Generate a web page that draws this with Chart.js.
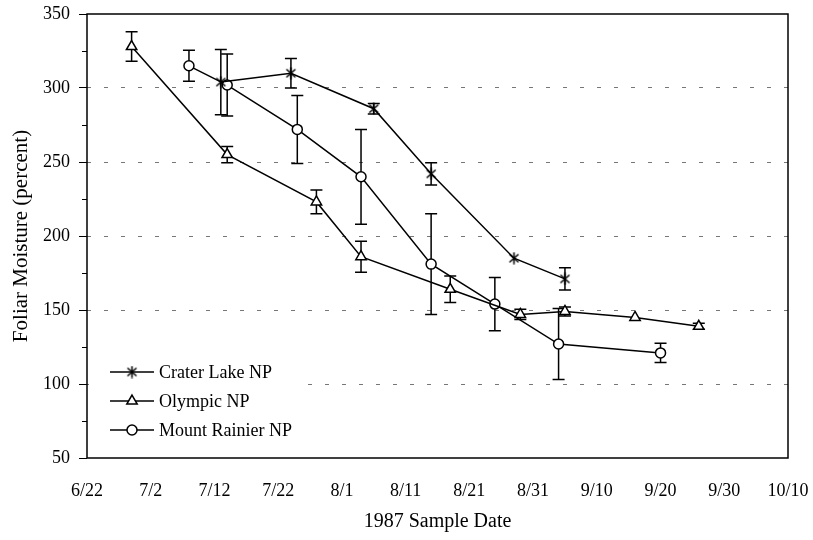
<!DOCTYPE html>
<html>
<head>
<meta charset="utf-8">
<script src="https://cdn.jsdelivr.net/npm/chart.js@4.4.0/dist/chart.umd.min.js"></script>
<style>
    html, body { margin: 0; padding: 0; background: #fff; }
    #wrap { width: 813px; height: 540px; }
</style>
</head>
<body>
<div id="wrap"><canvas id="chart" width="813" height="540"></canvas></div>
<script>
const xTickLabels = ["6/22", "7/2", "7/12", "7/22", "8/1", "8/11", "8/21", "8/31", "9/10", "9/20", "9/30", "10/10"];

const craterDates = ["7/13", "7/24", "8/6", "8/15", "8/28", "9/5"];
const craterValues = [304, 310, 286, 242, 185, 171];
const craterErrors = [22, 10, 3.5, 7.5, 0, 7.5];

const olympicDates = ["6/29", "7/14", "7/28", "8/4", "8/18", "8/29", "9/5", "9/16", "9/26"];
const olympicValues = [328, 255, 223, 186, 164, 147, 149, 145, 139];
const olympicErrors = [10, 5.5, 8, 10.5, 9, 3.5, 3, 0, 2];

const rainierDates = ["7/8", "7/14", "7/25", "8/4", "8/15", "8/25", "9/4", "9/20"];
const rainierValues = [315, 302, 272, 240, 181, 154, 127, 121];
const rainierErrors = [10.5, 21, 23, 32, 34, 18, 24, 6.5];

const FONT = "'Liberation Serif', 'Times New Roman', serif";

// days since 6/22/1987
function dayOffset(md) {
    const [m, d] = md.split("/").map(Number);
    return (Date.UTC(1987, m - 1, d) - Date.UTC(1987, 5, 22)) / 86400000;
}

function toPoints(dates, values) {
    return dates.map((d, i) => ({ x: dayOffset(d), y: values[i] }));
}

function makeAsterisk() {
    const c = document.createElement("canvas");
    c.width = 13;
    c.height = 13;
    const g = c.getContext("2d");
    g.strokeStyle = "#000";
    g.lineWidth = 1.5;
    g.beginPath();
    g.moveTo(2, 2.5); g.lineTo(11, 10.5);
    g.moveTo(11, 2.5); g.lineTo(2, 10.5);
    g.moveTo(6.5, 0.5); g.lineTo(6.5, 12.5);
    g.stroke();
    return c;
}

const asterisk = makeAsterisk();

function seriesStyle(style, radius) {
    return {
        borderColor: "#000",
        borderWidth: 1.5,
        pointStyle: style,
        pointRadius: radius,
        pointBorderColor: "#000",
        pointBackgroundColor: "#fff",
        pointBorderWidth: 1.5,
        tension: 0,
        fill: false,
    };
}

const errorBars = {
    id: "errorBars",
    beforeDatasetsDraw(chart) {
        const { ctx, scales: { x, y } } = chart;
        ctx.save();
        ctx.strokeStyle = "#000";
        ctx.lineWidth = 1.5;
        chart.data.datasets.forEach(ds => {
            ds.data.forEach((p, i) => {
                const e = ds.errors[i];
                if (!e) return;
                const px = x.getPixelForValue(p.x);
                const top = y.getPixelForValue(p.y + e);
                const bot = y.getPixelForValue(p.y - e);
                ctx.beginPath();
                ctx.moveTo(px, top); ctx.lineTo(px, bot);
                ctx.moveTo(px - 6, top); ctx.lineTo(px + 6, top);
                ctx.moveTo(px - 6, bot); ctx.lineTo(px + 6, bot);
                ctx.stroke();
            });
        });
        ctx.restore();
    },
};

const frameAndLegend = {
    id: "frameAndLegend",
    afterDraw(chart) {
        const { ctx, chartArea: a, scales: { y } } = chart;
        ctx.save();
        // minor y ticks
        ctx.strokeStyle = "#000";
        ctx.lineWidth = 1;
        for (let v = 75; v < 350; v += 50) {
            const py = Math.round(y.getPixelForValue(v)) + 0.5;
            ctx.beginPath();
            ctx.moveTo(a.left - 5, py);
            ctx.lineTo(a.left, py);
            ctx.stroke();
        }
        // box
        ctx.lineWidth = 1.5;
        ctx.strokeRect(a.left, a.top, a.right - a.left, a.bottom - a.top);

        // legend inside lower left
        ctx.fillStyle = "#fff";
        ctx.fillRect(a.left + 2, 352, 216, 92);
        const rows = [372, 401, 430];
        chart.data.datasets.forEach((ds, i) => {
            const ly = rows[i];
            ctx.strokeStyle = "#000";
            ctx.lineWidth = 1.5;
            ctx.beginPath();
            ctx.moveTo(110, ly);
            ctx.lineTo(154, ly);
            ctx.stroke();
            ctx.fillStyle = "#fff";
            Chart.helpers.drawPoint(ctx, {
                pointStyle: ds.pointStyle,
                radius: ds.pointRadius,
                borderWidth: 1.5,
                rotation: 0,
            }, 132, ly);
            ctx.fillStyle = "#000";
            ctx.font = `18px ${FONT}`;
            ctx.textBaseline = "middle";
            ctx.fillText(ds.label, 159, ly + 1);
        });
        ctx.restore();
    },
};

new Chart(document.getElementById("chart"), {
    type: "line",
    data: {
        datasets: [
            {
                label: "Crater Lake NP",
                data: toPoints(craterDates, craterValues),
                errors: craterErrors,
                ...seriesStyle(asterisk, 6),
            },
            {
                label: "Olympic NP",
                data: toPoints(olympicDates, olympicValues),
                errors: olympicErrors,
                ...seriesStyle("triangle", 6),
            },
            {
                label: "Mount Rainier NP",
                data: toPoints(rainierDates, rainierValues),
                errors: rainierErrors,
                ...seriesStyle("circle", 5),
            },
        ],
    },
    options: {
        responsive: false,
        animation: false,
        layout: { padding: { top: 14, right: 25, left: 0, bottom: 0 } },
        plugins: {
            legend: { display: false },
            tooltip: { enabled: false },
        },
        scales: {
            x: {
                type: "linear",
                min: 0,
                max: 110,
                afterFit: s => {
                    s.height = 82;
                    s.paddingLeft = 0;
                    s.paddingRight = 0;
                },
                grid: { display: false, drawTicks: false },
                border: { display: false },
                ticks: {
                    stepSize: 10,
                    autoSkip: false,
                    maxRotation: 0,
                    padding: 22,
                    color: "#000",
                    font: { family: FONT, size: 18 },
                    callback: (v, i) => xTickLabels[i],
                },
                title: {
                    display: true,
                    text: "1987 Sample Date",
                    color: "#000",
                    font: { family: FONT, size: 20 },
                    padding: { top: 6, bottom: 6 },
                },
            },
            y: {
                min: 50,
                max: 350,
                afterFit: s => {
                    s.width = 87;
                    s.paddingTop = 0;
                    s.paddingBottom = 0;
                },
                grid: {
                    color: c => (c.tick.value % 50 === 0 && c.tick.value > 50 && c.tick.value < 350) ? "#777" : "rgba(0,0,0,0)",
                    tickColor: c => (c.tick.value % 50 === 0 ? "#000" : "rgba(0,0,0,0)"),
                    tickLength: 8,
                    lineWidth: 1,
                },
                border: { display: false, dash: [4, 13] },
                ticks: {
                    stepSize: 25,
                    padding: 9,
                    color: "#000",
                    font: { family: FONT, size: 18 },
                    callback: v => (v % 50 === 0 ? v : ""),
                },
                title: {
                    display: true,
                    text: "Foliar Moisture (percent)",
                    color: "#000",
                    font: { family: FONT, size: 21 },
                    padding: { top: 9, bottom: 9 },
                },
            },
        },
    },
    plugins: [errorBars, frameAndLegend],
});
</script>
</body>
</html>
